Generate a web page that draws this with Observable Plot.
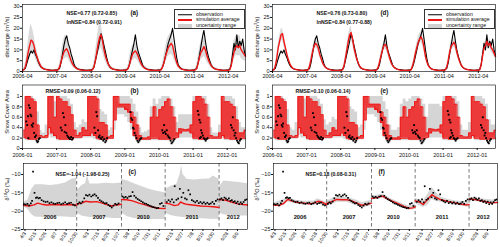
<!DOCTYPE html>
<html><head><meta charset="utf-8">
<script src="https://cdn.jsdelivr.net/npm/d3@7"></script>
<script src="https://cdn.jsdelivr.net/npm/@observablehq/plot@0.6"></script>
<style>
body{margin:0;background:#fff;}
#root{position:relative;width:500px;height:247px;overflow:hidden;font-family:"Liberation Sans",Arial,sans-serif;background:#fff;}
.panel{position:absolute;}
.panel svg{overflow:visible;display:block;}
.ylab{position:absolute;font-size:5.6px;white-space:nowrap;transform:translate(-50%,-50%) rotate(-90deg);color:#111;line-height:1;}
.ylab sup{font-size:4px;vertical-align:2px;line-height:0;}
.legend{position:absolute;border:0.6px solid #333;background:#fff;font-size:5.2px;color:#111;box-sizing:border-box;}
.lrow{position:absolute;left:0;height:6px;width:100%;}
.lsw{position:absolute;left:3px;width:14px;top:50%;transform:translateY(-50%);}
.ltx{position:absolute;left:21px;top:50%;transform:translateY(-50%);white-space:nowrap;line-height:1;}
</style>
</head><body>
<div id="root"></div>
<script>
// ---------- discharge (semi-monthly, from 2006-04-01) ----------
const obsQ = [
0.7,0.9,1.5,3.5,6,8,9.5,8.5,10,8,6.5,4.5,3,2,1.5,1.2,1,0.9,0.8,0.7,0.6,0.6,0.6,0.7,
0.7,0.9,1.5,4,8,12,15,16.5,13,11,8,6,3.5,2,1.5,1.2,1,0.9,0.8,0.7,0.6,0.6,0.6,0.7,
0.7,1,2,5,8,11,14,17.5,15,12,9,6,3.5,2.2,1.5,1.2,1,0.9,0.8,0.7,0.6,0.6,0.6,0.7,
0.7,0.9,1.5,3.5,7,10,13,17,12,9,7,5,3,2,1.5,1.2,1,0.9,0.8,0.7,0.6,0.6,0.6,0.7,
0.7,0.9,2,4,7,10,13,15,17,20,15,10,6,3,2,1.3,1,0.9,0.8,0.7,0.6,0.6,0.6,0.7,
0.7,0.9,1.5,4,8,12,16,19,14,10,7,5,3,2,1.5,1.2,1,0.9,0.8,0.7,0.6,0.6,0.6,0.7,
0.7,1,3,8,13,10,17,11,14,12,15,10,7];
const simQa = [
0.5,0.8,2,5,9,12,14.5,14,12,9,7,5,3.5,2.2,1.5,1.2,1,0.8,0.7,0.6,0.5,0.5,0.5,0.6,
0.5,0.8,2,4.5,7,9,10,10.5,9,7,5,3.5,2.5,1.8,1.3,1,0.8,0.7,0.6,0.5,0.5,0.5,0.5,0.6,
0.5,0.8,2,5,9,13,16,17,14,10,7,5,3.5,2.2,1.5,1.2,1,0.8,0.7,0.6,0.5,0.5,0.5,0.6,
0.5,0.8,1.5,3.5,6,8,9,9.5,8.5,7,5,3.5,2.5,1.8,1.3,1,0.8,0.7,0.6,0.5,0.5,0.5,0.5,0.6,
0.5,0.8,2,4,7,9,11,12,13,12,9,6,4,2.5,1.7,1.2,1,0.8,0.7,0.6,0.5,0.5,0.5,0.6,
0.5,0.8,1.5,4,7,9,10,11.5,10,7.5,5.5,4,2.8,2,1.4,1.1,0.9,0.8,0.7,0.6,0.5,0.5,0.5,0.6,
0.5,0.8,2.5,6,9,11,12,11,12,10,9,8,7];
const upQa = [
1,1.5,4,8,14,19,22,20,17,13,10,7,5,3.5,2.5,2,1.6,1.3,1.1,1,0.9,0.9,0.9,1,
1,1.5,3.5,8,12,15,17,16,13,10,7.5,5.5,4,3,2.2,1.7,1.4,1.2,1,0.9,0.9,0.9,0.9,1,
1,1.5,4,9,14,19,23,22,18,14,10,7,5,3.5,2.5,2,1.6,1.3,1.1,1,0.9,0.9,0.9,1,
1,1.5,3,7,10,12,13,13.5,12,10,7.5,5.5,4,3,2.2,1.7,1.4,1.2,1,0.9,0.9,0.9,0.9,1,
1,1.5,3.5,7,11,14,16,17,18,16,12,8.5,6,4,2.8,2,1.6,1.3,1.1,1,0.9,0.9,0.9,1,
1,1.5,3,7,11,14,15,16,14,11,8,6,4.3,3.2,2.3,1.8,1.5,1.3,1.1,1,0.9,0.9,0.9,1,
1,1.5,5,10,14,16,17,16,17,14,13,11,10];
const dnQa = [
0.2,0.4,1,2.5,5,7,9,9,8,6,4.5,3,2,1.3,0.9,0.7,0.6,0.5,0.4,0.3,0.3,0.3,0.3,0.3,
0.2,0.4,1,2.5,4,5.5,6,6.5,6,4.5,3.2,2.2,1.5,1.1,0.8,0.6,0.5,0.4,0.4,0.3,0.3,0.3,0.3,0.3,
0.2,0.4,1,3,5,8,10,11,9,6.5,4.5,3,2,1.3,0.9,0.7,0.6,0.5,0.4,0.3,0.3,0.3,0.3,0.3,
0.2,0.4,0.8,2,3.5,5,5.5,6,5.5,4.5,3.2,2.2,1.5,1.1,0.8,0.6,0.5,0.4,0.4,0.3,0.3,0.3,0.3,0.3,
0.2,0.4,1,2.5,4,5.5,7,7.5,8,7.5,5.5,3.8,2.5,1.5,1,0.7,0.6,0.5,0.4,0.3,0.3,0.3,0.3,0.3,
0.2,0.4,0.8,2.5,4,5.5,6,7,6,4.5,3.3,2.4,1.7,1.2,0.8,0.6,0.5,0.5,0.4,0.3,0.3,0.3,0.3,0.3,
0.2,0.4,1.2,3.5,5.5,7,7.5,7,7.5,6,5.5,5,4.5];
const simQd = [
0.5,0.8,2.5,6,11,14,17,17.5,14,11,8,5.5,3.8,2.4,1.6,1.2,1,0.8,0.7,0.6,0.5,0.5,0.5,0.6,
0.5,0.8,2.5,5.5,9,11.5,13,12.5,11,8,6,4,2.8,2,1.4,1.1,0.9,0.7,0.6,0.5,0.5,0.5,0.5,0.6,
0.5,0.8,2.5,6,10,14,17,18,15,11,8,5.5,3.8,2.4,1.6,1.2,1,0.8,0.7,0.6,0.5,0.5,0.5,0.6,
0.5,0.8,2,4.5,7.5,10,12,12.5,11,8.5,6,4,2.8,2,1.4,1.1,0.9,0.7,0.6,0.5,0.5,0.5,0.5,0.6,
0.5,0.8,2.5,5,8.5,11,13.5,15,16,14.5,11,7,4.5,2.8,1.8,1.3,1,0.8,0.7,0.6,0.5,0.5,0.5,0.6,
0.5,0.8,2,5,9,11.5,12.5,13.5,12,9,6.5,4.5,3,2.1,1.5,1.1,0.9,0.8,0.7,0.6,0.5,0.5,0.5,0.6,
0.5,0.8,3,7,11,12,14,12,13,11,10,8.5,7];
const upQd = [
0.8,1.1,3.2,7.5,13,16.5,19.5,20,16.5,13,9.5,6.5,4.5,3,2,1.5,1.2,1,0.9,0.8,0.7,0.7,0.7,0.8,
0.8,1.1,3.2,7,10.5,13.5,15,14.5,13,9.5,7,4.8,3.4,2.4,1.7,1.3,1.1,0.9,0.8,0.7,0.7,0.7,0.7,0.8,
0.8,1.1,3.2,7.5,12,16.5,19.5,21,17.5,13,9.5,6.5,4.5,3,2,1.5,1.2,1,0.9,0.8,0.7,0.7,0.7,0.8,
0.8,1.1,2.6,5.5,9,12,14,14.5,13,10,7,4.8,3.4,2.4,1.7,1.3,1.1,0.9,0.8,0.7,0.7,0.7,0.7,0.8,
0.8,1.1,3.2,6,10,13,16,17.5,18.5,17,13,8.5,5.5,3.4,2.2,1.6,1.2,1,0.9,0.8,0.7,0.7,0.7,0.8,
0.8,1.1,2.6,6,10.5,13.5,14.5,15.5,14,10.5,7.5,5.3,3.6,2.6,1.8,1.3,1.1,1,0.9,0.8,0.7,0.7,0.7,0.8,
0.8,1.1,3.8,8.5,13,14,16.5,14,15,13,12,10,8.5];
const dnQd = [
0.3,0.5,1.8,4.5,9,11.5,14,14.5,11.5,9,6.5,4.5,3.1,1.9,1.3,1,0.8,0.6,0.5,0.4,0.4,0.4,0.4,0.4,
0.3,0.5,1.8,4.2,7.5,9.5,11,10.5,9,6.5,5,3.3,2.3,1.6,1.1,0.9,0.7,0.6,0.5,0.4,0.4,0.4,0.4,0.4,
0.3,0.5,1.8,4.5,8,11.5,14.5,15,12.5,9,6.5,4.5,3.1,1.9,1.3,1,0.8,0.6,0.5,0.4,0.4,0.4,0.4,0.4,
0.3,0.5,1.5,3.5,6,8,10,10.5,9,7,5,3.3,2.3,1.6,1.1,0.9,0.7,0.6,0.5,0.4,0.4,0.4,0.4,0.4,
0.3,0.5,1.8,4,7,9,11,12.5,13.5,12,9,5.7,3.7,2.3,1.5,1.1,0.8,0.6,0.5,0.4,0.4,0.4,0.4,0.4,
0.3,0.5,1.5,4,7.5,9.5,10.5,11.5,10,7.5,5.5,3.7,2.5,1.7,1.2,0.9,0.7,0.6,0.5,0.4,0.4,0.4,0.4,0.4,
0.3,0.5,2.3,5.5,9,10,11.5,10,11,9,8,7,5.5];
const qTicks = ["2006-04","2007-04","2008-04","2009-04","2010-04","2011-04","2012-04"];
const qYTicks = [0,5,10,15,20,25,30];

// ---------- snow cover area (monthly, from 2006-01) ----------
const scaHi = [
0.35,1.0,1.0,0.95,0.9,0.45,0.25,0.22,0.25,1.0,1.0,0.6,
1.0,0.95,0.9,0.9,0.8,0.65,0.35,0.25,0.3,0.4,0.35,1.0,
1.0,1.0,0.95,0.5,0.5,0.45,0.22,0.25,1.0,1.0,0.85,0.85,
0.85,0.85,0.7,0.6,0.45,0.25,0.2,0.2,0.22,0.6,0.8,0.6,
0.75,0.8,0.9,0.95,0.8,0.6,0.3,0.38,0.37,0.36,0.37,0.45,
0.9,1.0,1.0,0.95,0.85,0.6,0.25,0.22,0.22,0.3,1.0,0.9,
0.9,0.85,0.8,0.55,0.3,0.3,0.35];
const scaLo = [
0.22,0.2,0.18,0.18,0.18,0.2,0.22,0.22,0.22,0.4,0.3,0.25,
0.2,0.18,0.18,0.18,0.18,0.18,0.22,0.22,0.22,0.25,0.25,0.25,
0.3,0.25,0.2,0.18,0.18,0.18,0.2,0.2,0.55,0.8,0.8,0.8,
0.75,0.7,0.5,0.25,0.18,0.18,0.18,0.18,0.18,0.2,0.2,0.2,
0.18,0.18,0.18,0.18,0.18,0.2,0.22,0.3,0.34,0.34,0.34,0.3,
0.2,0.2,0.18,0.18,0.18,0.2,0.2,0.2,0.2,0.2,0.25,0.2,
0.2,0.18,0.18,0.18,0.18,0.2,0.2];
const scaUpB = [
0.4,1.0,1.0,1.0,0.95,0.7,0.35,0.3,0.45,1.0,1.0,0.9,
1.0,1.0,1.0,1.0,0.95,0.85,0.5,0.4,0.45,0.55,0.5,1.0,
1.0,1.0,1.0,0.75,0.7,0.65,0.35,0.4,1.0,1.0,1.0,1.0,
1.0,1.0,0.95,0.85,0.7,0.4,0.3,0.32,0.35,0.8,0.95,0.85,
0.95,1.0,1.0,1.0,0.95,0.8,0.5,0.65,0.65,0.65,0.65,0.65,
1.0,1.0,1.0,1.0,1.0,0.85,0.4,0.3,0.3,0.45,1.0,1.0,
1.0,1.0,0.95,0.8,0.5,0.4,0.4];
const scaDnB = [
0.18,0.15,0.15,0.15,0.15,0.15,0.18,0.18,0.18,0.25,0.2,0.2,
0.15,0.15,0.15,0.15,0.15,0.15,0.18,0.18,0.18,0.2,0.2,0.2,
0.2,0.18,0.15,0.15,0.15,0.15,0.17,0.17,0.35,0.65,0.65,0.65,
0.6,0.5,0.35,0.2,0.15,0.15,0.15,0.15,0.15,0.15,0.15,0.15,
0.15,0.15,0.15,0.15,0.15,0.15,0.18,0.2,0.2,0.2,0.2,0.2,
0.15,0.15,0.15,0.15,0.15,0.15,0.17,0.17,0.17,0.17,0.2,0.15,
0.15,0.15,0.15,0.15,0.15,0.15,0.15];
const scaUpE = [
0.45,1.0,1.0,1.0,0.95,0.75,0.4,0.35,0.5,1.0,1.0,0.95,
1.0,1.0,1.0,1.0,0.95,0.85,0.55,0.45,0.5,0.6,0.55,1.0,
1.0,1.0,1.0,0.8,0.75,0.7,0.4,0.45,1.0,1.0,1.0,1.0,
1.0,1.0,1.0,0.9,0.75,0.45,0.35,0.35,0.4,0.85,0.95,0.9,
0.95,1.0,1.0,1.0,0.95,0.85,0.6,0.85,0.85,0.85,0.85,0.8,
1.0,1.0,1.0,1.0,1.0,0.9,0.45,0.35,0.35,0.5,1.0,1.0,
1.0,1.0,0.95,0.85,0.55,0.45,0.45];
const scaObs = [
["2006-02-10",0.52],["2006-02-20",0.45],["2006-03-01",0.62],["2006-03-05",0.2],["2006-03-10",0.83],["2006-03-20",0.78],["2006-03-28",0.65],["2006-04-05",0.62],["2006-04-10",0.45],["2006-04-18",0.42],["2006-04-25",0.48],["2006-05-05",0.3],["2006-05-15",0.22],["2006-05-25",0.25],["2006-06-01",0.15],["2006-06-10",0.12],["2006-06-18",0.14],["2006-06-25",0.18],["2006-07-05",0.2],
["2007-02-15",0.4],["2007-02-25",0.35],["2007-03-10",0.68],["2007-03-20",0.6],["2007-03-28",0.32],["2007-04-05",0.45],["2007-04-15",0.3],["2007-04-25",0.25],["2007-05-05",0.22],["2007-05-15",0.2],["2007-05-25",0.18],["2007-06-05",0.22],["2007-06-15",0.17],["2007-06-25",0.2],
["2008-02-10",0.4],["2008-02-20",0.3],["2008-03-01",0.7],["2008-03-10",0.62],["2008-03-20",0.35],["2008-03-28",0.22],["2008-04-05",0.25],["2008-04-15",0.2],["2008-04-25",0.18],["2008-05-05",0.22],["2008-05-15",0.15],["2008-05-25",0.18],["2008-06-05",0.12],["2008-06-15",0.15],["2008-06-25",0.2],
["2009-03-01",0.7],["2009-03-10",0.58],["2009-03-20",0.55],["2009-03-28",0.4],["2009-04-05",0.38],["2009-04-15",0.3],["2009-04-25",0.25],["2009-05-05",0.2],["2009-05-15",0.15],["2009-05-25",0.12],["2009-06-05",0.15],["2009-06-15",0.18],["2009-06-25",0.2],
["2010-02-05",0.35],["2010-02-15",0.3],["2010-02-25",0.45],["2010-03-05",0.32],["2010-03-15",0.28],["2010-03-25",0.35],["2010-04-05",0.25],["2010-04-15",0.22],["2010-04-25",0.2],["2010-05-05",0.15],["2010-05-15",0.1],["2010-05-25",0.12],["2010-06-05",0.15],["2010-06-15",0.18],
["2011-02-20",0.72],["2011-03-01",0.65],["2011-03-10",0.55],["2011-03-15",0.2],["2011-03-20",0.5],["2011-03-25",0.22],["2011-03-28",0.35],["2011-04-05",0.3],["2011-04-15",0.25],["2011-04-25",0.2],["2011-05-05",0.18],["2011-05-15",0.15],["2011-05-25",0.18],["2011-06-05",0.2],
["2012-02-10",0.45],["2012-02-20",0.4],["2012-03-01",0.6],["2012-03-10",0.35],["2012-03-20",0.25],["2012-03-28",0.3],["2012-04-05",0.2],["2012-04-15",0.15],["2012-04-25",0.12],["2012-05-05",0.1],["2012-05-15",0.15],["2012-05-25",0.18]];
const scaTicks = ["2006-01","2007-01","2008-01","2009-01","2010-01","2011-01","2012-01"];
const scaYTicks = [0,0.2,0.4,0.6,0.8,1];

// ---------- delta 18O ----------
const segYears = ["2006","2007","2010","2011","2012"];
const segStart = ["2006-03-28","2007-04-19","2010-04-10","2011-03-18","2012-05-26"];
const segEnd   = ["2006-10-31","2007-10-19","2010-10-05","2011-10-24","2012-09-19"];
const d18Ticks = ["2006-04-03","2006-05-15","2006-06-26","2006-08-07","2006-09-18","2006-10-30",
"2007-06-03","2007-07-15","2007-08-26","2007-10-07",
"2010-05-08","2010-06-19","2010-07-31","2010-09-11",
"2011-04-15","2011-05-27","2011-07-08","2011-08-19","2011-09-30",
"2012-06-28","2012-08-09"];
const d18YTicks = [-25,-20,-15,-10];
const obsD18 = [
["2006-03-30",-18.1],["2006-04-06",-18.2],["2006-04-13",-18.0],["2006-04-20",-18.4],["2006-04-27",-17.9],["2006-05-02",-17.2],["2006-05-06",-9.2],["2006-05-12",-15.0],["2006-05-18",-16.4],["2006-05-22",-16.2],["2006-05-28",-16.5],["2006-06-03",-16.4],["2006-06-10",-17.0],["2006-06-18",-17.3],["2006-06-26",-17.5],["2006-07-04",-17.4],["2006-07-12",-17.8],["2006-07-20",-17.6],["2006-07-28",-17.9],["2006-08-05",-18.0],["2006-08-13",-17.8],["2006-08-21",-17.7],["2006-08-29",-18.1],["2006-09-06",-17.9],["2006-09-14",-17.6],["2006-09-22",-18.0],["2006-09-30",-17.8],["2006-10-08",-17.7],["2006-10-16",-18.2],["2006-10-24",-18.4],
["2007-04-24",-18.0],["2007-04-30",-17.6],["2007-05-06",-17.9],["2007-05-13",-17.4],["2007-05-20",-16.5],["2007-05-27",-15.6],["2007-06-03",-15.8],["2007-06-10",-15.5],["2007-06-17",-16.0],["2007-06-24",-15.7],["2007-07-01",-15.4],["2007-07-08",-15.8],["2007-07-15",-16.4],["2007-07-22",-17.0],["2007-07-29",-17.3],["2007-08-05",-17.6],["2007-08-12",-17.9],["2007-08-19",-17.8],["2007-08-26",-18.3],["2007-09-02",-18.6],["2007-09-09",-19.0],["2007-09-16",-18.5],["2007-09-23",-18.0],["2007-09-30",-18.2],["2007-10-07",-17.9],
["2010-04-14",-16.0],["2010-04-20",-16.3],["2010-04-27",-16.1],["2010-05-04",-16.4],["2010-05-11",-16.0],["2010-05-18",-15.9],["2010-05-25",-14.8],["2010-06-01",-15.8],["2010-06-08",-16.3],["2010-06-15",-16.7],["2010-06-22",-17.0],["2010-06-29",-17.3],["2010-07-06",-17.6],["2010-07-13",-17.9],["2010-07-20",-18.0],["2010-07-27",-18.3],["2010-08-03",-18.5],["2010-08-10",-18.7],["2010-08-17",-18.9],["2010-08-24",-19.0],["2010-08-31",-19.2],["2010-09-07",-19.1],["2010-09-14",-18.0],["2010-09-21",-17.8],["2010-09-28",-18.6],
["2011-03-25",-17.5],["2011-04-01",-17.0],["2011-04-08",-17.4],["2011-04-15",-16.8],["2011-04-22",-17.6],["2011-04-26",-13.2],["2011-05-03",-16.9],["2011-05-10",-16.6],["2011-05-17",-13.9],["2011-05-24",-16.2],["2011-05-31",-15.0],["2011-06-07",-16.5],["2011-06-14",-16.8],["2011-06-21",-14.3],["2011-06-28",-15.4],["2011-07-05",-17.0],["2011-07-12",-17.3],["2011-07-19",-17.6],["2011-07-26",-17.2],["2011-08-02",-17.8],["2011-08-09",-17.5],["2011-08-16",-17.9],["2011-08-23",-17.6],["2011-08-30",-18.0],["2011-09-06",-17.7],["2011-09-13",-18.1],["2011-09-20",-17.9],["2011-09-27",-17.5],["2011-10-04",-18.0],["2011-10-11",-17.2],["2011-10-18",-16.8],
["2012-05-30",-16.8],["2012-06-05",-16.5],["2012-06-11",-17.0],["2012-06-17",-16.3],["2012-06-23",-16.6],["2012-06-29",-16.9],["2012-07-05",-16.5],["2012-07-11",-17.2],["2012-07-17",-17.0],["2012-07-23",-17.5],["2012-07-29",-17.3],["2012-08-04",-17.8],["2012-08-10",-17.4],["2012-08-16",-18.1],["2012-08-22",-17.6],["2012-08-28",-18.0],["2012-09-03",-17.5],["2012-09-09",-17.0],["2012-09-15",-16.8]];
const simD18c = [
["2006-03-28",-18.4],["2006-04-20",-18.6],["2006-05-10",-18.3],["2006-05-25",-17.8],["2006-06-10",-18.1],["2006-07-01",-18.3],["2006-08-01",-18.2],["2006-09-01",-18.3],["2006-10-01",-18.2],["2006-10-31",-18.4],
["2007-04-19",-18.0],["2007-05-10",-17.8],["2007-05-25",-17.3],["2007-06-15",-17.5],["2007-07-10",-17.4],["2007-08-01",-17.8],["2007-08-20",-18.2],["2007-09-10",-18.6],["2007-09-25",-18.3],["2007-10-19",-18.1],
["2010-04-10",-16.8],["2010-05-01",-16.9],["2010-05-25",-17.2],["2010-06-20",-17.8],["2010-07-15",-18.3],["2010-08-10",-18.8],["2010-09-05",-19.2],["2010-10-05",-19.3],
["2011-03-18",-17.8],["2011-04-05",-18.0],["2011-04-25",-18.5],["2011-05-10",-18.3],["2011-05-20",-17.5],["2011-06-01",-17.9],["2011-06-20",-18.2],["2011-07-15",-18.4],["2011-08-10",-18.6],["2011-09-05",-18.7],["2011-10-01",-18.8],["2011-10-24",-19.0],
["2012-05-26",-16.8],["2012-06-20",-17.0],["2012-07-15",-17.5],["2012-08-10",-18.0],["2012-09-01",-18.2],["2012-09-19",-18.3]];
const bandD18c = [
["2006-03-28",-18.8,-17.5],["2006-04-15",-19.5,-17],["2006-05-01",-21,-14],["2006-05-15",-21.6,-12.8],["2006-06-15",-21.7,-12.8],["2006-07-15",-21.6,-13],["2006-08-15",-21.5,-12.8],["2006-09-15",-21.6,-12.3],["2006-10-10",-21.7,-11.3],["2006-10-31",-21.7,-11],
["2007-04-19",-20.5,-14.5],["2007-05-10",-21.3,-13],["2007-05-25",-21.5,-12.5],["2007-06-02",-21.6,-10.3],["2007-06-12",-21.7,-12.6],["2007-07-15",-21.8,-12.6],["2007-08-15",-21.8,-12.4],["2007-09-15",-22,-12.5],["2007-10-19",-22,-12.3],
["2010-04-10",-20.5,-11.3],["2010-05-05",-21.5,-11.8],["2010-06-01",-22,-12.5],["2010-07-01",-22.2,-13.3],["2010-08-01",-22.3,-14],["2010-09-01",-22.3,-14.6],["2010-10-05",-22.3,-15],
["2011-03-18",-20.5,-14],["2011-04-10",-21.2,-13.3],["2011-05-05",-21.5,-12.6],["2011-05-18",-21.6,-10],["2011-05-24",-21.7,-7.6],["2011-05-30",-21.7,-10],["2011-06-15",-21.8,-11.3],["2011-07-15",-22,-11.5],["2011-08-15",-22.1,-11.3],["2011-09-15",-22.2,-11.2],["2011-10-01",-22.2,-10.4],["2011-10-24",-22.3,-11.3],
["2012-05-26",-20.5,-13.5],["2012-06-15",-21,-11.8],["2012-07-15",-21.3,-12],["2012-08-15",-21.3,-12.2],["2012-09-19",-21.3,-12.5]];
const simD18f = [
["2006-03-28",-18.3],["2006-04-20",-18.5],["2006-05-10",-17.8],["2006-05-25",-16.8],["2006-06-10",-17.2],["2006-07-01",-17.6],["2006-08-01",-17.8],["2006-08-20",-18.0],["2006-09-10",-17.8],["2006-09-25",-17.3],["2006-10-10",-17.5],["2006-10-31",-18.2],
["2007-04-19",-17.9],["2007-05-10",-17.4],["2007-05-30",-16.8],["2007-06-20",-16.9],["2007-07-10",-16.9],["2007-07-30",-17.2],["2007-08-20",-17.8],["2007-09-10",-18.4],["2007-09-25",-18.2],["2007-10-19",-17.8],
["2010-04-10",-16.5],["2010-05-01",-16.3],["2010-05-25",-15.9],["2010-06-10",-16.5],["2010-07-01",-17.2],["2010-07-25",-17.9],["2010-08-20",-18.7],["2010-09-10",-19.2],["2010-09-25",-19.1],["2010-10-05",-18.8],
["2011-03-18",-17.2],["2011-04-05",-17.5],["2011-04-20",-18.2],["2011-05-05",-17.0],["2011-05-25",-15.5],["2011-06-10",-16.2],["2011-07-01",-16.9],["2011-08-01",-17.4],["2011-09-01",-17.8],["2011-09-25",-18.1],["2011-10-15",-18.3],["2011-10-24",-18.2],
["2012-05-26",-16.7],["2012-06-15",-16.8],["2012-07-10",-17.1],["2012-08-05",-17.5],["2012-08-25",-17.8],["2012-09-19",-17.6]];
const bandD18f = [
["2006-03-28",-18.8,-17.8],["2006-05-10",-18.5,-16.8],["2006-05-25",-17.5,-16],["2006-06-10",-17.8,-16.6],["2006-07-01",-18.1,-17.1],["2006-08-01",-18.3,-17.3],["2006-09-10",-18.4,-17.2],["2006-09-25",-17.9,-16.6],["2006-10-31",-18.8,-17.6],
["2007-04-19",-18.5,-17.3],["2007-05-10",-18.2,-16.6],["2007-05-30",-17.6,-16],["2007-07-10",-17.6,-16.2],["2007-08-20",-18.5,-17],["2007-09-10",-19.1,-17.7],["2007-10-19",-18.6,-17],
["2010-04-10",-17,-16],["2010-05-25",-16.5,-15.3],["2010-07-01",-17.7,-16.7],["2010-08-20",-19.3,-18.1],["2010-09-10",-19.8,-18.6],["2010-10-05",-19.5,-18],
["2011-03-18",-17.9,-16.5],["2011-04-20",-19,-17.3],["2011-05-10",-18.3,-15.3],["2011-05-25",-16.8,-13.5],["2011-06-10",-17.3,-14.8],["2011-07-01",-17.6,-16.2],["2011-08-01",-18,-16.8],["2011-09-01",-18.4,-17.2],["2011-10-24",-18.9,-17.5],
["2012-05-26",-17.1,-16.3],["2012-07-10",-17.6,-16.6],["2012-09-19",-18.1,-17.1]];

// ---------- texts ----------
const statsA = ["NSE=0.77 (0.72-0.85)","lnNSE=0.84 (0.72-0.91)"];
const statsD = ["NSE=0.76 (0.73-0.80)","lnNSE=0.84 (0.77-0.88)"];
const statsB = "RMSE=0.09 (0.06-0.12)";
const statsE = "RMSE=0.10 (0.06-0.14)";
const statsC = "NSE=-1.04 (-1.98-0.25)";
const statsF = "NSE=0.18 (0.08-0.31)";
const legendLabels = ["observation","simulation average","uncertainty range"];

// ---------- build ----------
const RED = "#f01616", GRAY = "#d5d5d5";
const root = document.getElementById("root");
const baseStyle = {fontFamily:"'Liberation Sans', Arial, sans-serif", fontSize:"5.5px", background:"transparent", color:"#111", overflow:"visible"};
const parseD = s => new Date(s.length === 7 ? s + "-01T00:00:00Z" : s + "T00:00:00Z");

const qData = obsQ.map((v, i) => ({
  date: new Date(Date.UTC(2006, 3 + Math.floor(i / 2), i % 2 ? 16 : 1)),
  obs: v, simA: simQa[i], upA: upQa[i], dnA: dnQa[i], simD: simQd[i], upD: upQd[i], dnD: dnQd[i]
}));
const scaData = scaHi.map((v, i) => ({
  date: new Date(Date.UTC(2006, i, 15)), hi: v, lo: scaLo[i], upB: scaUpB[i], dnB: scaDnB[i], upE: scaUpE[i]
}));
const scaObsData = scaObs.map(([d, v]) => ({date: parseD(d), v}));

const dayMs = 864e5;
const segLen = segStart.map((s, i) => (parseD(segEnd[i]) - parseD(s)) / dayMs);
const segOff = segLen.map((_, i) => d3.sum(segLen.slice(0, i)));
const totalDays = d3.sum(segLen);
const pos = s => { const k = segYears.indexOf(s.slice(0, 4)); return segOff[k] + (parseD(s) - parseD(segStart[k])) / dayMs; };
const d18Obs = obsD18.map(([d, v]) => ({x: pos(d), y: v, seg: d.slice(0, 4)}));
const mkSim = arr => arr.map(([d, v]) => ({x: pos(d), y: v, seg: d.slice(0, 4)}));
const mkBand = arr => arr.map(([d, lo, hi]) => ({x: pos(d), lo, hi, seg: d.slice(0, 4)}));
const d18TickX = d18Ticks.map(pos);
const d18TickLab = new Map(d18Ticks.map(s => [pos(s), `${+s.slice(5, 7)}/${+s.slice(8, 10)}`]));

function place(node, left, top) {
  const div = document.createElement("div");
  div.className = "panel"; div.style.left = left + "px"; div.style.top = top + "px";
  div.appendChild(node); root.appendChild(div);
}
const label = (txt, dx, dy, size) => Plot.text([txt], {text: d => d, frameAnchor: "top-left", dx, dy, textAnchor: "start", lineAnchor: "middle", fontWeight: "bold", fontSize: size || 5.2, fill: "#111"});

function qPlot(sim, lo, hi, stats, tag) {
  return Plot.plot({
    width: 250, height: 82, marginLeft: 22, marginRight: 5, marginTop: 4, marginBottom: 11,
    style: baseStyle,
    x: {type: "utc", domain: [parseD("2006-04-01"), parseD("2012-10-01")]},
    y: {domain: [0, 31]},
    marks: [
      Plot.areaY(qData, {x: "date", y1: lo, y2: hi, fill: "#dadada"}),
      Plot.lineY(qData, {x: "date", y: "obs", stroke: "#000", strokeWidth: 1.1}),
      Plot.lineY(qData, {x: "date", y: sim, stroke: RED, strokeWidth: 1.4}),
      Plot.frame({stroke: "#000", strokeWidth: 0.6}),
      Plot.axisX({ticks: qTicks.map(parseD), tickFormat: d3.utcFormat("%Y-%m"), tickSize: 2, tickPadding: 1, label: null}),
      Plot.axisY({ticks: qYTicks, tickSize: 2, tickPadding: 1, label: null}),
      label(stats[0], 44, 9),
      label(stats[1], 44, 18),
      label(tag, 108, 8, 6.3)
    ]
  });
}
function scaPlot(up, dn, stats, tag) {
  return Plot.plot({
    width: 250, height: 80, marginLeft: 22, marginRight: 5, marginTop: 1.5, marginBottom: 15,
    style: baseStyle,
    x: {type: "utc", domain: [parseD("2006-01-01"), parseD("2012-07-15")]},
    y: {domain: [0, 1.22]},
    marks: [
      Plot.areaY(scaData, {x: "date", y1: dn, y2: up, fill: GRAY, curve: "step"}),
      Plot.areaY(scaData, {x: "date", y1: "lo", y2: "hi", fill: RED, fillOpacity: 0.82, curve: "step"}),
      Plot.lineY(scaData, {x: "date", y: "lo", stroke: RED, strokeWidth: 1.2, curve: "step"}),
      Plot.lineY(scaData, {x: "date", y: "hi", stroke: RED, strokeWidth: 0.8, curve: "step"}),
      Plot.dot(scaObsData, {x: "date", y: "v", symbol: "square", r: 1.05, fill: "#000"}),
      Plot.frame({stroke: "#000", strokeWidth: 0.6}),
      Plot.axisX({ticks: scaTicks.map(parseD), tickFormat: d3.utcFormat("%Y-%m"), tickSize: 2, tickPadding: 3, label: null}),
      Plot.axisY({ticks: scaYTicks, tickFormat: d => String(d), tickSize: 2, tickPadding: 1, label: null}),
      label(stats, 23, 6),
      label(tag, 108, 6, 6.3)
    ]
  });
}
function d18Plot(sim, band, stats, tag) {
  return Plot.plot({
    width: 250, height: 86, marginLeft: 23, marginRight: 3, marginTop: 2, marginBottom: 18,
    style: baseStyle,
    x: {domain: [0, totalDays]},
    y: {domain: [-25, -7]},
    marks: [
      Plot.areaY(mkBand(band), {x: "x", y1: "lo", y2: "hi", z: "seg", fill: GRAY}),
      Plot.ruleX(segOff.slice(1), {stroke: "#555", strokeDasharray: "3.5,2.5", strokeWidth: 0.8}),
      Plot.lineY(mkSim(sim), {x: "x", y: "y", z: "seg", stroke: RED, strokeWidth: 1.4}),
      Plot.dot(d18Obs, {x: "x", y: "y", symbol: "square", r: 0.95, fill: "#000"}),
      Plot.text(segYears, {x: (d, i) => segOff[i] + segLen[i] / 2, y: () => -21.6, text: d => d, fontWeight: "bold", fontSize: 5.8, fill: "#111"}),
      Plot.frame({stroke: "#000", strokeWidth: 0.6}),
      Plot.axisX({ticks: d18TickX, tickFormat: d => d18TickLab.get(d), tickRotate: -55, tickSize: 2, tickPadding: 1, label: null, fontSize: 5}),
      Plot.axisY({ticks: d18YTicks, tickSize: 2, tickPadding: 1, label: null}),
      label(stats, 32, 11),
      label(tag, 105, 8, 6.3)
    ]
  });
}

function yLabel(html, x, y) {
  const d = document.createElement("div");
  d.className = "ylab"; d.innerHTML = html; d.style.left = x + "px"; d.style.top = y + "px";
  root.appendChild(d);
}
function legend(left, top) {
  const box = document.createElement("div");
  box.className = "legend";
  Object.assign(box.style, {left: left + "px", top: top + "px", width: "71px", height: "20px"});
  const sw = [
    {background: "#000", height: "1.5px"},
    {background: RED, height: "2px"},
    {background: "#d0d0d0", height: "4px"}
  ];
  legendLabels.forEach((t, i) => {
    const row = document.createElement("div");
    row.className = "lrow"; row.style.top = (1.5 + i * 5.8) + "px";
    const s = document.createElement("div"); s.className = "lsw"; Object.assign(s.style, sw[i]);
    const tx = document.createElement("div"); tx.className = "ltx"; tx.textContent = t;
    row.appendChild(s); row.appendChild(tx); box.appendChild(row);
  });
  root.appendChild(box);
}

place(qPlot("simA", "dnA", "upA", statsA, "(a)"), 0, 0);
place(qPlot("simD", "dnD", "upD", statsD, "(d)"), 250, 0);
place(scaPlot("upB", "dnB", statsB, "(b)"), 0, 83);
place(scaPlot("upE", "dnB", statsE, "(e)"), 250, 83);
place(d18Plot(simD18c, bandD18c, statsC, "(c)"), 0, 161);
place(d18Plot(simD18f, bandD18f, statsF, "(f)"), 250, 161);

legend(174, 9);
legend(424, 9);
[0, 250].forEach(o => {
  yLabel("discharge (m<sup>3</sup>/s)", o + 7.5, 37);
  yLabel("Snow Cover Area", o + 7.5, 112);
  yLabel("δ<sup>18</sup>O (‰)", o + 7.5, 189);
});
</script>
</body></html>
